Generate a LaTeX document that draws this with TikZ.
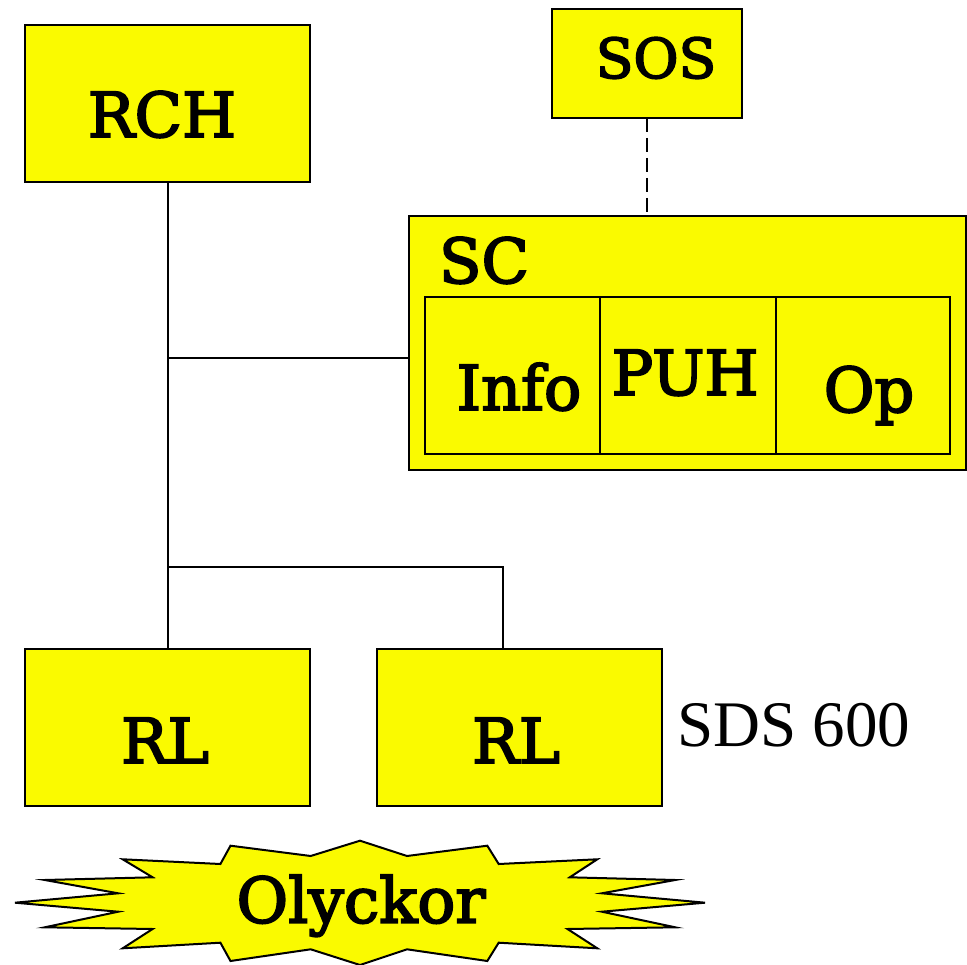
\documentclass[tikz,border=0pt]{standalone}
\usepackage{fontspec}
\newfontfamily\boxfont[FakeBold=3]{DejaVu Serif}
\newfontfamily\timesfont{Liberation Serif}
\definecolor{boxyellow}{RGB}{250,250,0}
\begin{document}
\begin{tikzpicture}[x=1pt,y=-1pt,
  box/.style={draw=black,line width=2pt,fill=boxyellow,inner sep=0pt,outer sep=0pt},
  lbl/.style={anchor=base,inner sep=0pt,font=\boxfont\fontsize{62}{70}\selectfont},
  conn/.style={draw=black,line width=2pt}]
\useasboundingbox (0,0) rectangle (967,965);
% boxes
\node[box,minimum width=285pt,minimum height=157pt] (RCH) at (167.5,103.5) {};
\node[box,minimum width=190pt,minimum height=109pt] (SOS) at (647,63.5) {};
\node[box,minimum width=557pt,minimum height=254pt] (SC) at (687.5,343) {};
\node[box,minimum width=175pt,minimum height=157pt] (Info) at (512.5,375.5) {};
\node[box,minimum width=176pt,minimum height=157pt] (PUH) at (688,375.5) {};
\node[box,minimum width=174pt,minimum height=157pt] (Op) at (863,375.5) {};
\node[box,minimum width=285pt,minimum height=157pt] (RL1) at (167.5,727.5) {};
\node[box,minimum width=285pt,minimum height=157pt] (RL2) at (519.5,727.5) {};
% labels
\node[lbl] (tRCH) at (162,137) {RCH};
\node[lbl,font=\boxfont\fontsize{55}{60}\selectfont] (tSOS) at (656,78) {SOS};
\node[lbl] (tSC) at (484,283) {SC};
\node[lbl] (tInfo) at (519,410) {Info};
\node[lbl] (tPUH) at (685,395) {PUH};
\node[lbl] (tOp) at (869,412) {Op};
\node[lbl] (tRL1) at (165,763) {RL};
\node[lbl] (tRL2) at (516,763) {RL};
\node[anchor=base,inner sep=0pt,font=\timesfont\fontsize{65}{70}\selectfont] (sds) at (794,746) {SDS 600};
% connectors
\coordinate (j1) at (167.5,358);
\coordinate (j2) at (167.5,567);
\coordinate (k2) at (503,567);
\draw[conn] (RCH.south) -- (RL1.north);
\draw[conn] (j1) -- (j1 -| SC.west);
\draw[conn] (j2) -- (k2) -- (k2 |- RL2.north);
\draw[conn,dash pattern=on 14pt off 6pt] (SOS.south) -- (SOS.south |- SC.north);
% starburst
\draw[line width=2pt,fill=boxyellow,line join=miter]
 (360,840.7) -- (407,856) -- (487.3,845.7) -- (498.7,864) -- (597.3,859.3) -- (569.8,877.3)
 -- (675.2,880) -- (601.9,893.3) -- (705,902.7) -- (601.9,911.7) -- (675.2,927.3)
 -- (567.5,929) -- (597.3,948.3) -- (498.7,942.7) -- (487.3,961) -- (407,949.3)
 -- (360,965) -- (310.7,949.3) -- (230.5,961) -- (220.4,942.7) -- (122.7,948.3)
 -- (152.6,929) -- (44.8,927.3) -- (118.2,911.7) -- (15,902.7) -- (118.2,893.3)
 -- (44.8,880) -- (152.6,877.3) -- (122.7,859.3) -- (220.4,864) -- (230.5,845.7)
 -- (310.7,856) -- cycle;
\node[anchor=base,inner sep=0pt,font=\boxfont\fontsize{63}{70}\selectfont] (oly) at (361,922.7) {Olyckor};
\end{tikzpicture}
\end{document}
